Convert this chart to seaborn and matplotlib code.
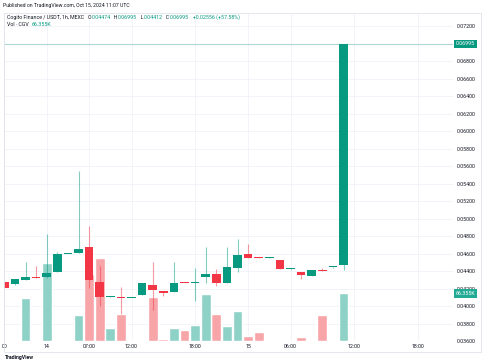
import numpy as np
import pandas as pd
import seaborn as sns
import matplotlib.pyplot as plt
from matplotlib.patches import Rectangle
from matplotlib.transforms import blended_transform_factory

# hourly candles, Cogito Finance / USDT (MEXC)
opens = [0.04278, 0.04248, 0.04300, 0.04331, 0.04328, 0.04392, 0.04591, 0.04609, 0.04671, 0.04278,
         0.04106, 0.04106, 0.04088, 0.04126, 0.04240, 0.04171, 0.04163, 0.04266, 0.04260, 0.04335,
         0.04362, 0.04266, 0.04438, 0.04594, 0.04556, 0.04552, 0.04526, 0.04419, 0.04392, 0.04347,
         0.04412, 0.04442, 0.04474]
highs = [0.04278, 0.04310, 0.04503, 0.04457, 0.04823, 0.04617, 0.04600, 0.05543, 0.04914, 0.04457,
         0.04112, 0.04221, 0.04097, 0.04262, 0.04503, 0.04171, 0.04503, 0.04266, 0.04431, 0.04671,
         0.04423, 0.04674, 0.04762, 0.04709, 0.04556, 0.04558, 0.04526, 0.04424, 0.04392, 0.04410,
         0.04438, 0.04448, 0.06995]
lows = [0.04210, 0.04245, 0.04300, 0.04325, 0.04320, 0.04390, 0.04590, 0.04605, 0.04206, 0.04003,
        0.04104, 0.03909, 0.04086, 0.04124, 0.03954, 0.04114, 0.04160, 0.04258, 0.04057, 0.04266,
        0.04229, 0.04264, 0.04392, 0.04550, 0.04550, 0.04550, 0.04424, 0.04417, 0.04312, 0.04345,
        0.04398, 0.04440, 0.04412]
closes = [0.04210, 0.04305, 0.04331, 0.04325, 0.04381, 0.04591, 0.04600, 0.04651, 0.04294, 0.04106,
          0.04112, 0.04088, 0.04097, 0.04260, 0.04183, 0.04145, 0.04266, 0.04260, 0.04266, 0.04369,
          0.04266, 0.04442, 0.04583, 0.04552, 0.04552, 0.04556, 0.04426, 0.04423, 0.04354, 0.04408,
          0.04400, 0.04446, 0.06995]
volume_k = [2.0, 2.0, 59.4, 1.8, 109.0, 2.0, 0.7, 36.0, 92.8, 115.0,
            18.0, 38.0, 1.5, 1.5, 61.0, 2.8, 18.5, 14.8, 22.0, 65.0,
            37.0, 21.0, 42.0, 6.5, 12.5, 0.7, 1.2, 0.5, 5.0, 1.2,
            35.7, 0.5, 66.355]

time_ticks = [0, 4, 8, 12, 18, 23, 27, 33, 39]
time_labels = ["00", "14", "07:00", "12:00", "18:00", "15", "06:00", "12:00", "18:00"]
price_ticks = np.round(np.arange(0.036, 0.0721, 0.002), 3)

UP, DOWN = "#089981", "#f23645"
UP_VOL, DOWN_VOL = "#8ed1c6", "#f7a5a8"
TXT = "#131722"

df = pd.DataFrame({"i": range(len(opens)), "open": opens, "high": highs,
                   "low": lows, "close": closes, "vol": np.array(volume_k) * 1000})
df["dir"] = np.where(df["close"] >= df["open"], "up", "down")
colors = np.where(df["dir"] == "up", UP, DOWN)

sns.set_theme(style="white")
plt.rcParams["font.family"] = ["Roboto", "DejaVu Sans"]

W, H = 485, 360
fig = plt.figure(figsize=(W / 100, H / 100), dpi=100)
ax_p = fig.add_axes([4 / W, 19 / H, 449 / W, 328 / H])
ax_v = ax_p.twinx()
ax_c = ax_p.twinx()

# volume
sns.barplot(data=df, x="i", y="vol", hue="dir", palette={"up": UP_VOL, "down": DOWN_VOL},
            dodge=False, width=0.92, saturation=1, errorbar=None, legend=False, ax=ax_v)

# candles
ax_c.vlines(df["i"], df["low"], df["high"], colors=colors, lw=0.8, alpha=0.5)
body_lo = df[["open", "close"]].min(axis=1)
body_h = (df["close"] - df["open"]).abs().clip(lower=0.0001)
ax_c.bar(df["i"], body_h, bottom=body_lo, width=0.8, color=colors, linewidth=0)
ax_c.axhline(0.06995, color=UP, alpha=0.3, lw=0.8)

ax_p.set_xlim(-0.03, 42.33)
for a in (ax_p, ax_c):
    a.set_ylim(0.036, 0.07349)
ax_v.set_ylim(0, 456500)

ax_p.set_yticks(price_ticks, [f"{t:.5f}" for t in price_ticks])
ax_p.yaxis.tick_right()
ax_p.set_xticks(time_ticks, time_labels)
ax_p.grid(True, color="#f0f3fa", lw=0.6)
ax_p.tick_params(length=0, labelsize=3.8, colors=TXT)
ax_p.tick_params(axis="y", pad=2.4)
ax_p.tick_params(axis="x", pad=2.5)
for a in (ax_v, ax_c):
    a.set_yticks([])
    a.set_ylabel("")
    a.set_xlabel("")
for a in (ax_p, ax_v, ax_c):
    for s in a.spines.values():
        s.set_visible(False)

# price / volume badges
bt = blended_transform_factory(ax_c.transAxes, ax_c.transData)
ax_c.text(1.006, 0.06995, "0.06995", transform=bt, ha="left", va="center", fontsize=3.8,
          color="white", bbox=dict(boxstyle="square,pad=0.35", fc=UP, ec="none"),
          clip_on=False, zorder=10)
bt2 = blended_transform_factory(ax_c.transAxes, ax_v.transData)
ax_c.text(1.006, 66355, "66.355K", transform=bt2, ha="left", va="center", fontsize=3.8,
          color="white", bbox=dict(boxstyle="square,pad=0.35", fc="#22ab94", ec="none"),
          clip_on=False, zorder=10)

# frame and header
fig.patches.append(Rectangle((4 / W, 8 / H), 476.7 / W, 339.5 / H, transform=fig.transFigure,
                             fill=False, ec="#e0e3eb", lw=0.6))
fig.text(3 / W, 1 - 6 / H, "Published on TradingView.com, Oct 15, 2024 11:07 UTC",
         fontsize=3.7, color=TXT, va="center")

def header_line(y, parts):
    t = fig.text(7 / W, 1 - y / H, parts[0][0], fontsize=3.8, color=parts[0][1], va="center")
    for s, c in parts[1:]:
        t = ax_c.annotate(s, xy=(1, 0), xycoords=t, va="bottom", ha="left",
                          fontsize=3.8, color=c, annotation_clip=False)

header_line(17.7, [("Cogito Finance / USDT, 1h, MEXC   ", TXT), ("O", TXT), ("0.04474", UP),
                   ("   H", TXT), ("0.06995", UP), ("   L", TXT), ("0.04412", UP),
                   ("   C", TXT), ("0.06995", UP), ("   +0.02556 (+57.58%)", UP)])
header_line(24.5, [("Vol · CGV  ", TXT), ("66.355K", UP)])

fig.text(5 / W, 3 / H, "TradingView", fontsize=3.7, weight="bold", color=TXT, va="center")

fig.savefig("out.png", dpi=100)
